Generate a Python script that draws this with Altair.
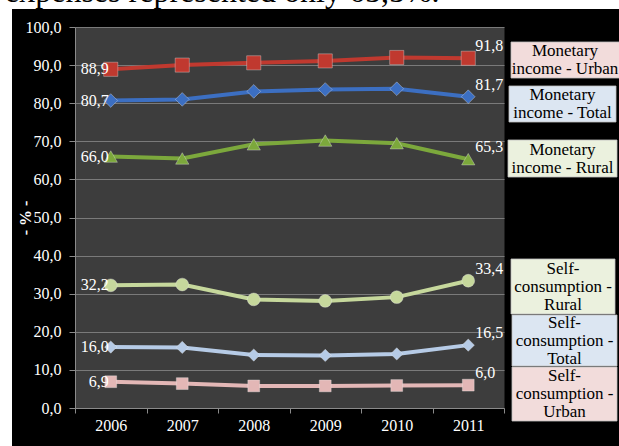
import altair as alt
import pandas as pd

years = ["2006", "2007", "2008", "2009", "2010", "2011"]
series = [
    "Monetary income - Urban",
    "Monetary income - Total",
    "Monetary income - Rural",
    "Self-consumption - Rural",
    "Self-consumption - Total",
    "Self-consumption - Urban",
]
mon_urban = [88.9, 90.0, 90.6, 91.1, 92.0, 91.8]
mon_total = [80.7, 81.0, 83.1, 83.6, 83.8, 81.7]
mon_rural = [66.0, 65.5, 69.2, 70.2, 69.5, 65.3]
self_rural = [32.2, 32.4, 28.5, 28.1, 29.1, 33.4]
self_total = [16.0, 15.9, 13.9, 13.8, 14.2, 16.5]
self_urban = [6.9, 6.4, 5.8, 5.8, 5.9, 6.0]
box_labels = [
    "Monetary\nincome - Urban",
    "Monetary\nincome - Total",
    "Monetary\nincome - Rural",
    "Self-\nconsumption -\nRural",
    "Self-\nconsumption -\nTotal",
    "Self-\nconsumption -\nUrban",
]
caption = "expenses represented only 65,5%."
y_title = "- % -"

all_values = [mon_urban, mon_total, mon_rural, self_rural, self_total, self_urban]
rows = []
for s, vals in zip(series, all_values):
    for yr, v in zip(years, vals):
        rows.append({"series": s, "year": yr, "value": v})
df = pd.DataFrame(rows)

# styles
line_colors = ["#c0392f", "#3c6fc2", "#7ca83c", "#c6d89c", "#b6cbe6", "#e3b7b6"]
pt_colors = ["#d0403a", "#4a80d4", "#8bb747", "#d6e4b0", "#c8d9f0", "#f0c8c8"]
shapes = ["square", "diamond", "triangle-up", "circle", "diamond", "square"]
sizes = [200, 140, 200, 150, 100, 260]
box_fills = ["#f2dcdb", "#dce6f2", "#ebf1de", "#ebf1de", "#dce6f2", "#f2dcdb"]

# layout (absolute px)
PL, PT, W, H = 75, 27, 429, 381
PR, PB = 619 - PL - W, 446 - PT - H
boxes = [
    (511, 621, 42, 78),
    (509, 616, 86, 122),
    (508, 617, 140, 177),
    (511, 615, 259, 314),
    (512, 617, 315, 366),
    (512, 617, 367, 421),
]
LH = 18

FONT = "Liberation Serif"

x_enc = alt.X(
    "year:O",
    scale=alt.Scale(type="band", paddingInner=0, paddingOuter=0),
    axis=alt.Axis(
        title=None,
        labelAngle=0,
        tickBand="extent",
        tickSize=5,
        labelPadding=4,
        labelFont=FONT,
        labelFontSize=16,
        labelColor="white",
        domainColor="#8a8a8a",
        tickColor="#8a8a8a",
        grid=False,
    ),
)
y_enc = alt.Y(
    "value:Q",
    scale=alt.Scale(domain=[0, 100], nice=False),
    axis=alt.Axis(
        title=y_title,
        values=list(range(0, 101, 10)),
        labelExpr="replace(format(datum.value, '.1f'), '.', ',')",
        labelOverlap=False,
        labelFlush=False,
        labelFont=FONT,
        labelFontSize=16,
        labelColor="white",
        labelPadding=8,
        tickSize=6,
        tickColor="#8a8a8a",
        domainColor="#8a8a8a",
        gridColor="#7a7a7a",
        gridWidth=1,
        titleFont=FONT,
        titleFontSize=16,
        titleFontWeight="bold",
        titleColor="white",
        titleAngle=270,
        titleX=-50,
        titleY=H / 2,
        titleAlign="center",
        titleBaseline="middle",
    ),
)

color_scale = alt.Scale(domain=series, range=line_colors)

base = alt.Chart(df)

lines = base.mark_line(strokeWidth=4).encode(
    x=x_enc,
    y=y_enc,
    color=alt.Color("series:N", scale=color_scale, legend=None),
    detail="series:N",
)

points = base.mark_point(filled=True, opacity=1, strokeWidth=1, stroke="#eeeeee", strokeOpacity=0.35).encode(
    x=x_enc,
    y=y_enc,
    color=alt.Color("series:N", scale=alt.Scale(domain=series, range=pt_colors), legend=None),
    shape=alt.Shape("series:N", scale=alt.Scale(domain=series, range=shapes), legend=None),
    size=alt.Size("series:N", scale=alt.Scale(domain=series, range=sizes), legend=None),
)

lbl_calc = "replace(format(datum.value, '.1f'), '.', ',')"

left_labels = base.transform_filter(alt.datum.year == years[0]).transform_calculate(
    lbl=lbl_calc
).mark_text(
    align="right", baseline="middle", dx=-2, font=FONT, fontSize=16, color="white"
).encode(x=x_enc, y=y_enc, text="lbl:N")

right_labels = base.transform_filter(alt.datum.year == years[-1]).transform_calculate(
    lbl=lbl_calc
).mark_text(
    align="left", baseline="middle", dx=7, dy=-12, font=FONT, fontSize=16, color="white"
).encode(x=x_enc, y=y_enc, text="lbl:N")

# white margins (outside the dark frame) and caption
one = pd.DataFrame({"t": [caption]})
white_top = alt.Chart(one).mark_rect(color="white").encode(
    x=alt.value(-PL), x2=alt.value(W + PR), y=alt.value(-PT), y2=alt.value(9 - PT)
)
white_left = alt.Chart(one).mark_rect(color="white").encode(
    x=alt.value(-PL), x2=alt.value(12 - PL), y=alt.value(-PT), y2=alt.value(H + PB)
)
cap = alt.Chart(one).mark_text(
    align="left", baseline="alphabetic", font=FONT, fontSize=32, color="black"
).encode(x=alt.value(5 - PL), y=alt.value(2 - PT), text="t:N")

layers = [white_top, white_left, cap, lines, points, left_labels, right_labels]

rect_layers, text_layers = [], []
for (x0, x1, y0, y1), fill, lab in zip(boxes, box_fills, box_labels):
    d = pd.DataFrame({"t": [lab]})
    n = lab.count("\n") + 1
    rect_layers.append(
        alt.Chart(d).mark_rect(fill=fill, stroke="#bfbfbf", strokeWidth=0.8).encode(
            x=alt.value(x0 - PL), x2=alt.value(x1 - PL), y=alt.value(y0 - PT), y2=alt.value(y1 - PT)
        )
    )
    text_layers.append(
        alt.Chart(d).mark_text(
            lineBreak="\n", align="center", baseline="middle", font=FONT, fontSize=17,
            lineHeight=LH, color="black"
        ).encode(
            x=alt.value((x0 + min(x1, 619)) / 2 - PL),
            y=alt.value((y0 + y1) / 2 - (n - 1) * LH / 2 - PT),
            text="t:N",
        )
    )

layers += rect_layers + text_layers

chart = alt.layer(*layers).properties(
    width=W,
    height=H,
    autosize=alt.AutoSizeParams(type="none"),
    padding={"left": PL, "top": PT, "right": PR, "bottom": PB},
    background="black",
).configure_view(fill="#3d3d3d", stroke="transparent")

chart.save("out.html", embed_options={"renderer": "svg", "actions": False})
